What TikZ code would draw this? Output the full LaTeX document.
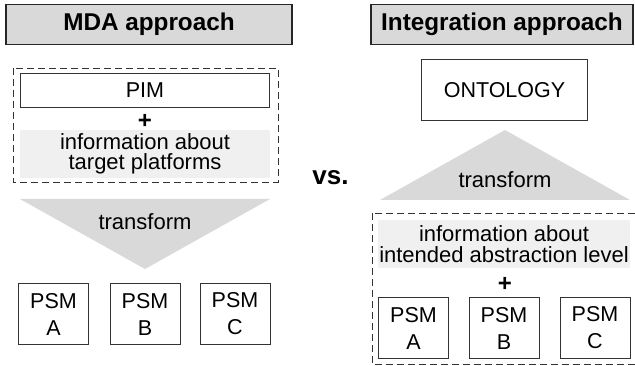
\documentclass[tikz,border=0pt]{standalone}
\usepackage{fontspec}
\setmainfont{Liberation Sans}
\begin{document}
\begin{tikzpicture}[x=1pt, y=-1pt,
        header/.style={draw=black!85, line width=1.8pt, fill=gray!30, minimum height=40pt,
            font=\fontsize{24.3}{26}\selectfont\bfseries},
        box/.style={draw=black!80, line width=0.9pt, fill=white, font=\fontsize{21.5}{22}\selectfont},
        psm/.style={box, minimum width=70pt, minimum height=61pt, align=center,
            font=\fontsize{21.5}{27}\selectfont},
        info/.style={fill=gray!12, inner sep=0pt, minimum height=48pt, align=center,
            font=\fontsize{22}{20.5}\selectfont},
        dashbox/.style={draw=black!80, line width=0.9pt, dash pattern=on 7pt off 4pt},
        tri/.style={fill=gray!30},
        txt/.style={font=\fontsize{22}{22}\selectfont},
        plus/.style={font=\fontsize{24}{24}\selectfont\bfseries, inner sep=0pt}]
    \useasboundingbox (0,0) rectangle (635,366);
    \clip (0,0) rectangle (635,366);

    % MDA
    \node[header, minimum width=286pt] (mdahead) at (149,24.5) {MDA approach};
    \draw[dashbox] (13,68) rectangle (278,182);
    \node[box, minimum width=249pt, minimum height=34pt] (pim) at (145,90.5) {PIM};
    \node[plus] (plusL) at (145,121) {+};
    \node[info, minimum width=250pt] (infoL) at (145,154) {information about\\target platforms};
    \fill[tri] (20,199) -- (270,199) -- (145,269) -- cycle;
    \node[txt] (trL) at (145,222) {transform};
    \node[psm] (psmLA) at (53.5,314) {PSM\\A};
    \node[psm] (psmLB) at (145,314) {PSM\\B};
    \node[psm] (psmLC) at (235,314) {PSM\\C};

    \node[font=\fontsize{26}{26}\selectfont\bfseries] (vs) at (330.5,178) {vs.};

    % Integration
    \node[header, minimum width=262pt] (inthead) at (502,24.5) {Integration approach};
    \node[box, minimum width=166pt, minimum height=61pt] (onto) at (504.5,90) {ONTOLOGY};
    \fill[tri] (380,200) -- (630,200) -- (505,130) -- cycle;
    \node[txt] (trR) at (505,179.5) {transform};
    \draw[dashbox] (372,213) rectangle (660,364.5);
    \node[info, minimum width=252pt] (infoR) at (504,244) {information about\\intended abstraction level};
    \node[plus] (plusR) at (505,284.5) {+};
    \node[psm] (psmRA) at (413.5,328) {PSM\\A};
    \node[psm] (psmRB) at (504,328) {PSM\\B};
    \node[psm] (psmRC) at (595,328) {PSM\\C};
\end{tikzpicture}
\end{document}
